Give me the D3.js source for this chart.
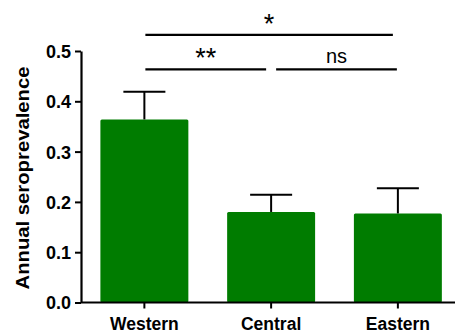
<!DOCTYPE html>
<html>
<head>
<meta charset="utf-8">
<script src="https://cdn.jsdelivr.net/npm/d3@7/dist/d3.min.js"></script>
<style>
  html, body { margin: 0; padding: 0; background: #fff; }
  svg { display: block; font-family: "Liberation Sans", Arial, sans-serif; }
</style>
</head>
<body>
<svg id="chart" width="455" height="334"></svg>
<script>
// Annual seroprevalence by region (mean with upper SEM whisker)
const categories = ["Western", "Central", "Eastern"];
const means = [0.364, 0.180, 0.177];
const sem = [0.055, 0.034, 0.050];
const yTicks = [0.0, 0.1, 0.2, 0.3, 0.4, 0.5];

// Pairwise comparisons drawn as brackets above the bars
const compFrom = [0, 1, 0];
const compTo = [1, 2, 2];
const compLabel = ["**", "ns", "*"];
const compLevel = [0.4636, 0.4636, 0.532];

const svg = d3.select("#chart");
const green = "#007c00";

const y = d3.scaleLinear().domain([0, 0.5]).range([302.5, 51]);
const x = d3.scaleBand().domain(categories)
  .range([81, 81 + 3 * 126.75])
  .paddingInner(0.306).paddingOuter(0.153);

// Bars
svg.append("g").selectAll("rect").data(categories).join("rect")
  .attr("x", d => x(d))
  .attr("y", (d, i) => y(means[i]))
  .attr("width", x.bandwidth())
  .attr("height", (d, i) => y(0) - y(means[i]))
  .attr("rx", 1.5)
  .attr("fill", green);

// Upper error whiskers
const capW = 42;
const eb = svg.append("g").attr("stroke", "#000").attr("stroke-width", 2);
categories.forEach((c, i) => {
  const cx = x(c) + x.bandwidth() / 2;
  eb.append("line").attr("x1", cx).attr("x2", cx)
    .attr("y1", y(means[i])).attr("y2", y(means[i] + sem[i]));
  eb.append("line").attr("x1", cx - capW / 2).attr("x2", cx + capW / 2)
    .attr("y1", y(means[i] + sem[i])).attr("y2", y(means[i] + sem[i]));
});

// Axes
const yAxis = svg.append("g").attr("transform", "translate(81,0)")
  .call(d3.axisLeft(y).tickValues(yTicks).tickFormat(d3.format(".1f"))
    .tickSize(6).tickSizeOuter(0).tickPadding(4));
const xAxis = svg.append("g").attr("transform", `translate(0,${y(0)})`)
  .call(d3.axisBottom(x).tickSize(6).tickSizeOuter(0).tickPadding(5));

[yAxis, xAxis].forEach(g => {
  g.select(".domain").attr("stroke", "#000").attr("stroke-width", 2.2);
  g.selectAll(".tick line").attr("stroke", "#000").attr("stroke-width", 2);
  g.selectAll(".tick text").attr("fill", "#000").attr("font-weight", "bold")
    .attr("font-family", "'Liberation Sans', Arial, sans-serif");
});
yAxis.selectAll(".tick text").attr("font-size", 18).attr("dy", "0.36em");
xAxis.selectAll(".tick text").attr("font-size", 17.5).attr("dy", "0.93em");
// extend x axis line to the right edge
xAxis.select(".domain").attr("d", "M81,0H455");

// Y axis title
svg.append("text")
  .attr("transform", "translate(29,178) rotate(-90)")
  .attr("text-anchor", "middle")
  .attr("font-size", 18).attr("font-weight", "bold")
  .attr("textLength", 223).attr("lengthAdjust", "spacingAndGlyphs")
  .text("Annual seroprevalence");

// Significance brackets
const sg = svg.append("g");
const last = categories.length - 1;
compLabel.forEach((lab, i) => {
  const c0 = x(categories[compFrom[i]]) + x.bandwidth() / 2;
  const c1 = x(categories[compTo[i]]) + x.bandwidth() / 2;
  const top = compLevel[i] > 0.5;
  const x1 = c0 + (compFrom[i] === 0 ? 1 : 5);
  const x2 = c1 - (!top && compTo[i] === last ? 1 : 5);
  const ly = y(compLevel[i]);
  sg.append("line").attr("x1", x1).attr("x2", x2).attr("y1", ly).attr("y2", ly)
    .attr("stroke", "#000").attr("stroke-width", 2.2);
  const isNs = lab === "ns";
  sg.append("text")
    .attr("x", (x1 + x2) / 2)
    .attr("y", isNs ? ly - 6 : ly - 2)
    .attr("text-anchor", "middle")
    .attr("font-size", isNs ? 20 : 27)
    .attr("font-family", "'Liberation Sans', Arial, sans-serif")
    .text(lab);
});
</script>
</body>
</html>
